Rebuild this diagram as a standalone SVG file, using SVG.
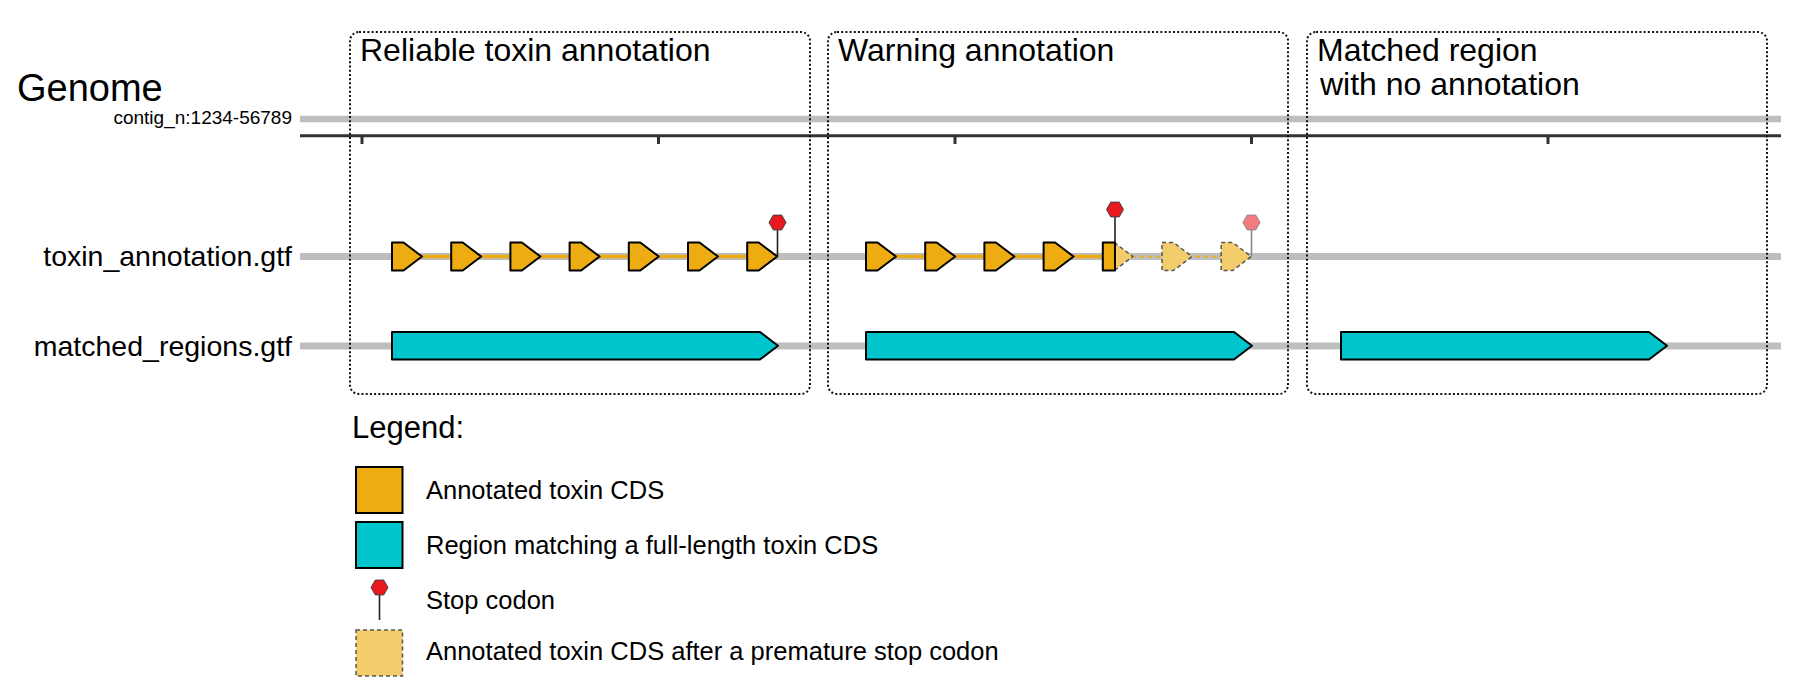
<svg xmlns="http://www.w3.org/2000/svg" width="1794" height="691" viewBox="0 0 1794 691">
<style>
text{font-family:"Liberation Sans",Arial,sans-serif;fill:#000}
.title{font-size:32px}
.track{font-size:28.5px}
.leg{font-size:25.5px}
.gray{stroke:#bebebe;stroke-width:7;fill:none}
.box{fill:none;stroke:#111;stroke-width:2;stroke-dasharray:2 2.2}
.cds{fill:#ecac12;stroke:#000;stroke-width:2;stroke-linejoin:round}
.faded{fill:#f3cc6c;stroke:#555;stroke-width:1.5;stroke-dasharray:4 3;stroke-linejoin:round}
.reg{fill:#00c5cd;stroke:#000;stroke-width:2;stroke-linejoin:round}
.stop{fill:#e8191f;stroke:#444;stroke-width:1}
.stopf{fill:#f47b7f;stroke:#888;stroke-width:1}
.stem{stroke:#222;stroke-width:1.6}
.stemf{stroke:#888;stroke-width:1.6}
.link{stroke:#ecac12;stroke-width:3.5}
.linkf{stroke:#ecac12;stroke-width:1.5;stroke-dasharray:5 3}
.tick{stroke:#333;stroke-width:3}
</style>
<defs>
<polygon id="hex" points="-8.5,0 -4.25,-7.4 4.25,-7.4 8.5,0 4.25,7.4 -4.25,7.4"/>
<polygon id="arrow" points="0,242.5 11.5,242.5 30,256.5 11.5,270.5 0,270.5"/>
</defs>
<rect width="1794" height="691" fill="#fff"/>

<g id="genome">
<text x="17" y="101" style="font-size:38px">Genome</text>
<text x="292" y="123.5" text-anchor="end" style="font-size:19px">contig_n:1234-56789</text>
<line class="gray" x1="300" y1="119" x2="1781" y2="119" style="stroke-width:6.5"/>
<line x1="300" y1="135.7" x2="1781" y2="135.7" stroke="#333" stroke-width="3"/>
<line class="tick" x1="362" y1="136" x2="362" y2="144"/>
<line class="tick" x1="658.5" y1="136" x2="658.5" y2="144"/>
<line class="tick" x1="955" y1="136" x2="955" y2="144"/>
<line class="tick" x1="1251.5" y1="136" x2="1251.5" y2="144"/>
<line class="tick" x1="1548" y1="136" x2="1548" y2="144"/>
</g>

<g id="track-labels">
<text class="track" x="292" y="266" text-anchor="end">toxin_annotation.gtf</text>
<text class="track" x="292" y="356" text-anchor="end">matched_regions.gtf</text>
<line class="gray" x1="300" y1="256.5" x2="1781" y2="256.5"/>
<line class="gray" x1="300" y1="346" x2="1781" y2="346"/>
</g>

<g id="connectors">
<line class="link" x1="392" y1="256.5" x2="777" y2="256.5"/>
<line class="link" x1="866" y1="256.5" x2="1115" y2="256.5"/>
<line class="linkf" x1="1115" y1="256.5" x2="1251" y2="256.5"/>
<line class="stem" x1="777.5" y1="229" x2="777.5" y2="256.5"/>
<line class="stem" x1="1115" y1="216" x2="1115" y2="245"/>
<line class="stemf" x1="1251.5" y1="229" x2="1251.5" y2="256.5"/>
</g>

<g id="region-reliable">
<rect class="box" x="350" y="32" width="460" height="362" rx="9"/>
<text class="title" x="360" y="61">Reliable toxin annotation</text>
<use href="#arrow" class="cds" x="392"/>
<use href="#arrow" class="cds" x="451.2"/>
<use href="#arrow" class="cds" x="510.4"/>
<use href="#arrow" class="cds" x="569.6"/>
<use href="#arrow" class="cds" x="628.8"/>
<use href="#arrow" class="cds" x="688"/>
<use href="#arrow" class="cds" x="747.2"/>
<use href="#hex" class="stop" x="777.5" y="222.5"/>
<polygon class="reg" points="392,332 760,332 778,345.75 760,359.5 392,359.5"/>
</g>

<g id="region-warning">
<rect class="box" x="828" y="32" width="460" height="362" rx="9"/>
<text class="title" x="838" y="61">Warning annotation</text>
<use href="#arrow" class="cds" x="866"/>
<use href="#arrow" class="cds" x="925.2"/>
<use href="#arrow" class="cds" x="984.4"/>
<use href="#arrow" class="cds" x="1043.6"/>
<polygon class="faded" points="1114.3,242.5 1132.8,256.5 1114.3,270.5"/>
<rect class="cds" x="1102.8" y="242.5" width="12.2" height="28"/>
<use href="#arrow" class="faded" x="1162"/>
<use href="#arrow" class="faded" x="1221.2"/>
<use href="#hex" class="stop" x="1115" y="209.5"/>
<use href="#hex" class="stopf" x="1251.5" y="222.5"/>
<polygon class="reg" points="866,332 1234,332 1252,345.75 1234,359.5 866,359.5"/>
</g>

<g id="region-unannotated">
<rect class="box" x="1307" y="32" width="460" height="362" rx="9"/>
<text class="title" x="1317" y="61">Matched region</text>
<text class="title" x="1320" y="95">with no annotation</text>
<polygon class="reg" points="1341,332 1649,332 1667,345.75 1649,359.5 1341,359.5"/>
</g>

<g id="legend">
<text class="title" x="352" y="438" style="font-size:31px">Legend:</text>
<rect x="356" y="467" width="46.5" height="46" fill="#ecac12" stroke="#000" stroke-width="2"/>
<text class="leg" x="426" y="499">Annotated toxin CDS</text>
<rect x="356" y="522" width="46.5" height="46" fill="#00c5cd" stroke="#000" stroke-width="2"/>
<text class="leg" x="426" y="554">Region matching a full-length toxin CDS</text>
<line class="stem" x1="379.5" y1="594" x2="379.5" y2="620"/>
<use href="#hex" class="stop" x="379.5" y="587.5"/>
<text class="leg" x="426" y="609">Stop codon</text>
<rect x="356" y="630" width="46.5" height="46" fill="#f3cc6c" stroke="#555" stroke-width="1.5" stroke-dasharray="4 3"/>
<text class="leg" x="426" y="660">Annotated toxin CDS after a premature stop codon</text>
</g>
</svg>
